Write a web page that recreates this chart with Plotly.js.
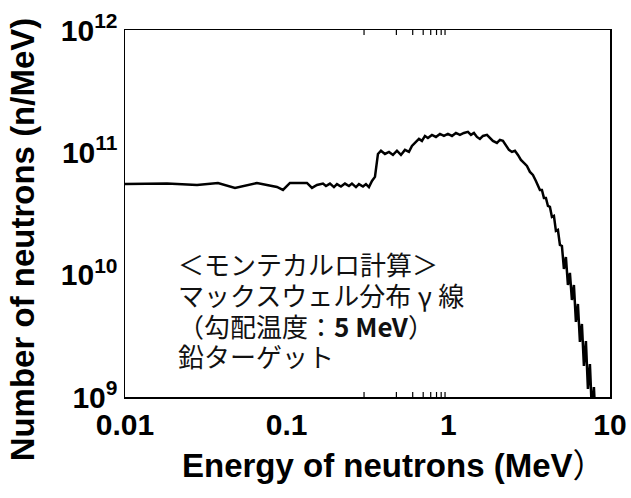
<!DOCTYPE html>
<html>
<head>
<meta charset="utf-8">
<script src="https://cdn.plot.ly/plotly-3.0.1.min.js"></script>
<style>
  html, body { margin: 0; padding: 0; background: #fff; }
  #chart { width: 631px; height: 498px; }
</style>
</head>
<body>
<div id="chart"></div>
<script>
// Neutron energy spectrum (Monte Carlo), lead target
const energyMeV = [
  0.01, 0.0182, 0.0279, 0.0376, 0.0479, 0.0655, 0.0871, 0.0949, 0.1048, 0.1335,
  0.1434, 0.154, 0.1677, 0.175, 0.1853, 0.1961, 0.2047, 0.2167, 0.2294, 0.2428,
  0.2534, 0.2683, 0.28, 0.2965, 0.3094, 0.3228, 0.337, 0.3517, 0.367, 0.3831,
  0.4055, 0.4294, 0.4545, 0.481, 0.5092, 0.5391, 0.5706, 0.5955, 0.6304, 0.6579,
  0.6866, 0.7166, 0.7478, 0.7917, 0.8381, 0.8875, 0.9393, 0.9943, 1.053, 1.114,
  1.18, 1.249, 1.322, 1.38, 1.44, 1.503, 1.568, 1.637, 1.733, 1.809,
  1.887, 1.998, 2.085, 2.176, 2.271, 2.371, 2.474, 2.582, 2.695, 2.812,
  2.935, 3.063, 3.197, 3.336, 3.481, 3.686, 3.792, 3.902, 4.015, 4.131,
  4.25, 4.373, 4.499, 4.629, 4.763, 4.9, 5.042, 5.188, 5.337, 5.492,
  5.65, 5.813, 5.981, 6.154, 6.332, 6.515, 6.703, 6.897, 7.096, 7.301,
  7.512, 7.729, 7.952, 8.182
];
const neutronCount = [
  5.52e10, 5.57e10, 5.41e10, 5.62e10, 5.12e10, 5.62e10, 5.21e10, 4.93e10, 5.62e10, 5.62e10,
  5.12e10, 5.41e10, 5.55e10, 5.3e10, 5.55e10, 5.2e10, 5.5e10, 5.25e10, 5.55e10, 5.3e10,
  5.55e10, 5.2e10, 5.5e10, 5.25e10, 5.5e10, 5.2e10, 5.84e10, 6.30e10, 9.70e10, 1.03e11,
  9.70e10, 1.008e11, 9.52e10, 1.03e11, 9.52e10, 1.047e11, 1.008e11, 1.128e11, 1.216e11, 1.287e11,
  1.24e11, 1.362e11, 1.311e11, 1.388e11, 1.336e11, 1.414e11, 1.362e11, 1.414e11, 1.362e11, 1.44e11,
  1.388e11, 1.44e11, 1.469e11, 1.388e11, 1.44e11, 1.336e11, 1.287e11, 1.362e11, 1.388e11, 1.311e11,
  1.24e11, 1.194e11, 1.263e11, 1.24e11, 1.128e11, 1.047e11, 1.008e11, 1.03e11, 9.52e10, 8.67e10,
  8.19e10, 7.74e10, 6.92e10, 6.54e10, 5.84e10, 4.93e10, 4.93e10, 4.24e10, 4.24e10, 3.645e10,
  3.577e10, 2.964e10, 3.02e10, 2.277e10, 2.32e10, 1.749e10, 1.717e10, 1.113e10, 1.395e10, 8.235e9,
  1.033e10, 6.21e9, 8.235e9, 4.105e9, 5.76e9, 2.817e9, 3.954e9, 1.793e9, 2.87e9, 1.162e9,
  1.861e9, 7.54e8, 1.207e9, 5.37e8
];

const xTickVals = [0.01, 0.1, 1, 10];
const xTickText = ['0.01', '0.1', '1', '10'];
const yTickVals = [1e9, 1e10, 1e11, 1e12];
const yTickText = ['10<sup>9</sup>', '10<sup>10</sup>', '10<sup>11</sup>', '10<sup>12</sup>'];

const noteLines = [
  '＜モンテカルロ計算＞',
  'マックスウェル分布\u2005γ\u2005線',
  '（勾配温度：<b>5 MeV</b>）',
  '鉛ターゲット'
];
const noteY = [0.365, 0.278, 0.196, 0.114];

// minor ticks at 2..9 within each decade
function minorTicks(lo, hi) {
  const out = [];
  for (let p = lo; p < hi; p++) {
    for (let m = 2; m <= 9; m++) out.push(m * Math.pow(10, p));
  }
  return out;
}

// inward tick marks on all four sides; shapes on log axes take log10 positions
const plotW = 485, plotH = 367;
function tickShapes(vals, len, width, onX) {
  const shapes = [];
  vals.forEach(v => {
    const p = Math.log10(v);
    if (onX) {
      const f = len / plotH;
      shapes.push({ type: 'line', xref: 'x', yref: 'paper', x0: p, x1: p, y0: 0, y1: f, line: { color: '#000', width } });
      shapes.push({ type: 'line', xref: 'x', yref: 'paper', x0: p, x1: p, y0: 1, y1: 1 - f, line: { color: '#000', width } });
    } else {
      const f = len / plotW;
      shapes.push({ type: 'line', xref: 'paper', yref: 'y', x0: 0, x1: f, y0: p, y1: p, line: { color: '#000', width } });
      shapes.push({ type: 'line', xref: 'paper', yref: 'y', x0: 1, x1: 1 - f, y0: p, y1: p, line: { color: '#000', width } });
    }
  });
  return shapes;
}

const latin = 'Liberation Sans, Arial, Helvetica, sans-serif';
const cjk = 'Noto Sans CJK JP, Liberation Sans, sans-serif';

const axisCommon = {
  type: 'log',
  showline: true, linecolor: '#000', linewidth: 1.5, mirror: true,
  ticks: '', showgrid: false, zeroline: false,
  tickmode: 'array',
  tickfont: { family: latin, size: 30, color: '#000', weight: 'bold' }
};

const layout = {
  width: 631, height: 498,
  margin: { l: 125, r: 21, t: 30, b: 101 },
  paper_bgcolor: '#fff', plot_bgcolor: '#fff',
  showlegend: false,
  xaxis: Object.assign({}, axisCommon, { range: [-2, 1], tickvals: xTickVals, ticktext: xTickText }),
  yaxis: Object.assign({}, axisCommon, { range: [9, 12], tickvals: yTickVals, ticktext: yTickText }),
  shapes: [].concat(
    tickShapes(xTickVals.slice(1, -1), 9, 1.5, true),
    tickShapes(minorTicks(-2, 1), 5, 1.2, true),
    tickShapes(yTickVals.slice(1, -1), 9, 1.5, false),
    tickShapes(minorTicks(9, 12), 5, 1.2, false)
  ),
  annotations: [
    {
      xref: 'paper', yref: 'paper', x: 0.555, y: -0.18, xanchor: 'center', yanchor: 'middle',
      text: 'Energy of neutrons (MeV<span style="font-family:Noto Sans CJK JP;font-weight:normal">）</span>', showarrow: false,
      font: { family: latin, size: 33, color: '#000', weight: 'bold' }
    },
    {
      xref: 'paper', yref: 'paper', x: -0.212, y: 0.43, xanchor: 'center', yanchor: 'middle',
      text: 'Number of neutrons (n/MeV)', textangle: -90, showarrow: false,
      font: { family: latin, size: 33, color: '#000', weight: 'bold' }
    }
  ].concat(noteLines.map((t, i) => ({
    xref: 'paper', yref: 'paper', x: 0.105, y: noteY[i], xanchor: 'left', yanchor: 'middle',
    text: t, showarrow: false,
    font: { family: cjk, size: 26, color: '#111' }
  })))
};

const trace = {
  x: energyMeV, y: neutronCount,
  type: 'scatter', mode: 'lines',
  line: { color: '#000', width: 2.5 },
  hoverinfo: 'skip'
};

Plotly.newPlot('chart', [trace], layout, { staticPlot: true, displayModeBar: false });
</script>
</body>
</html>
